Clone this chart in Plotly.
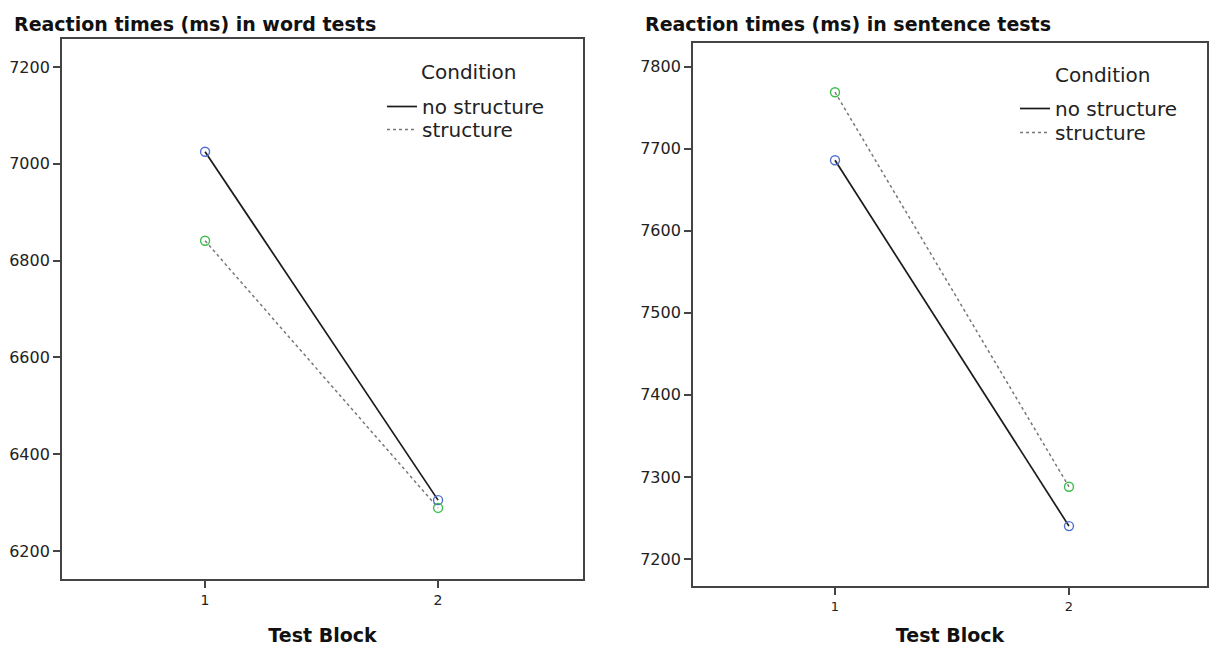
import plotly.graph_objects as go

blocks = [1, 2]
word_no_structure = [7025, 6305]
word_structure = [6841, 6289]
sent_no_structure = [7686, 7240]
sent_structure = [7769, 7288]

conditions = ["no structure", "structure"]
legend_title = "Condition"
titles = ["Reaction times (ms) in word tests", "Reaction times (ms) in sentence tests"]
word_ticks = [6200, 6400, 6600, 6800, 7000, 7200]
sent_ticks = [7200, 7300, 7400, 7500, 7600, 7700, 7800]

W, H = 1210, 648
FONT = "DejaVu Sans"
BLUE = "#4f6fd3"
GREEN = "#3dbb4c"

fig = go.Figure()

def add_panel(xa, ya, legends, no_s, s):
    fig.add_trace(go.Scatter(x=blocks, y=no_s, mode="lines", name=conditions[0],
                             line=dict(color="#1a1a1a", width=1.7), xaxis=xa, yaxis=ya,
                             legend=legends[0], hoverinfo="skip"))
    fig.add_trace(go.Scatter(x=blocks, y=s, mode="lines", name=conditions[1],
                             line=dict(color="#777777", width=1.5, dash="dot"), xaxis=xa, yaxis=ya,
                             legend=legends[1], hoverinfo="skip"))
    fig.add_trace(go.Scatter(x=blocks, y=no_s, mode="markers", showlegend=False,
                             marker=dict(symbol="circle-open", size=9, color=BLUE, line=dict(width=1.4)),
                             xaxis=xa, yaxis=ya))
    fig.add_trace(go.Scatter(x=blocks, y=s, mode="markers", showlegend=False,
                             marker=dict(symbol="circle-open", size=9, color=GREEN, line=dict(width=1.4)),
                             xaxis=xa, yaxis=ya))

add_panel("x", "y", ["legend", "legend3"], word_no_structure, word_structure)
add_panel("x2", "y2", ["legend2", "legend4"], sent_no_structure, sent_structure)

axis_common = dict(showgrid=False, zeroline=False, showline=True, linecolor="#444444",
                   linewidth=1.8, mirror=True, ticks="outside", tickcolor="#444444",
                   ticklen=7, tickwidth=1.8)

def px2x(p):
    return p / W

def px2y(p):
    return 1 - p / H

legend_common = dict(xanchor="left", yanchor="top", font=dict(size=20, color="#222"),
                     bgcolor="rgba(0,0,0,0)", itemwidth=30, tracegroupgap=0)

fig.update_layout(
    width=W, height=H,
    margin=dict(l=0, r=0, t=0, b=0, autoexpand=False),
    paper_bgcolor="white", plot_bgcolor="white",
    font=dict(family=FONT, color="#222222"),
    xaxis=dict(domain=[px2x(62), px2x(583)], range=[0.386, 2.622], tickvals=blocks,
               ticktext=[str(b) for b in blocks], tickfont=dict(size=14, color="#222"),
               title=dict(text="<b>Test Block</b>", font=dict(size=19, color="#111"), standoff=22),
               anchor="y", **axis_common),
    yaxis=dict(domain=[px2y(579), px2y(39)], range=[6142, 7258], tickvals=word_ticks,
               tickfont=dict(size=16, color="#222"), anchor="x", **axis_common),
    xaxis2=dict(domain=[px2x(693), px2x(1207)], range=[0.393, 2.59], tickvals=blocks,
                ticktext=[str(b) for b in blocks], tickfont=dict(size=13, color="#222"),
                title=dict(text="<b>Test Block</b>", font=dict(size=19, color="#111"), standoff=16),
                anchor="y2", **axis_common),
    yaxis2=dict(domain=[px2y(586), px2y(43)], range=[7167, 7829], tickvals=sent_ticks,
                tickfont=dict(size=16, color="#222"), anchor="x2", **axis_common),
    legend=dict(x=px2x(382), y=px2y(87), **legend_common),
    legend3=dict(x=px2x(382), y=px2y(110), **legend_common),
    legend2=dict(x=px2x(1015), y=px2y(89), **legend_common),
    legend4=dict(x=px2x(1015), y=px2y(113), **legend_common),
    annotations=[
        dict(text="<b>" + titles[0] + "</b>", x=px2x(12), y=px2y(24), xref="paper", yref="paper",
             xanchor="left", yanchor="middle", showarrow=False, font=dict(size=19, color="#111")),
        dict(text="<b>" + titles[1] + "</b>", x=px2x(643), y=px2y(24), xref="paper", yref="paper",
             xanchor="left", yanchor="middle", showarrow=False, font=dict(size=19, color="#111")),
        dict(text=legend_title, x=px2x(468), y=px2y(72), xref="paper", yref="paper",
             xanchor="center", yanchor="middle", showarrow=False, font=dict(size=20, color="#222")),
        dict(text=legend_title, x=px2x(1102), y=px2y(75), xref="paper", yref="paper",
             xanchor="center", yanchor="middle", showarrow=False, font=dict(size=20, color="#222")),
    ],
)

fig.write_html("out.html", config={"displayModeBar": False},
               post_script="document.body.style.margin='0';document.body.style.overflow='hidden';")
